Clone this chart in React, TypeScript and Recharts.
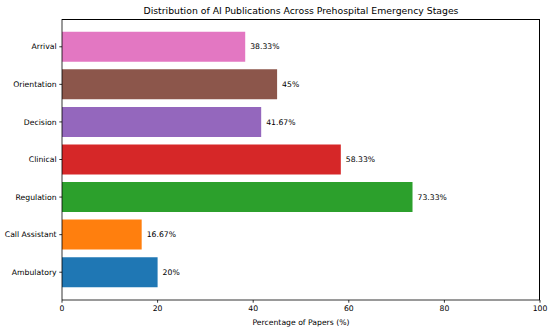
import React from "react";
import { BarChart, Bar, XAxis, YAxis, Cell, LabelList } from "recharts";

// stages listed top to bottom
const stages = [
  "Arrival",
  "Orientation",
  "Decision",
  "Clinical",
  "Regulation",
  "Call Assistant",
  "Ambulatory",
];
const percentages = [38.33, 45, 41.67, 58.33, 73.33, 16.67, 20];
const barColors = [
  "#e377c2",
  "#8c564b",
  "#9467bd",
  "#d62728",
  "#2ca02c",
  "#ff7f0e",
  "#1f77b4",
];
const xTicks = [0, 20, 40, 60, 80, 100];

const data = stages.map((stage, i) => ({ stage, value: percentages[i] }));

const FONT = "DejaVu Sans";
const tickStyle = { fill: "#000", fontSize: 7.7, fontFamily: FONT };
const spine = { stroke: "#000", strokeWidth: 0.8 };

// single-line category tick (no wrapping)
function StageTick(props: any) {
  const { x, y, payload } = props;
  return (
    <text
      x={x}
      y={y}
      dy="0.35em"
      textAnchor="end"
      fill="#000"
      fontSize={7.7}
      fontFamily={FONT}
    >
      {payload.value}
    </text>
  );
}

export default function App() {
  return (
    <div
      style={{
        position: "absolute",
        left: 0,
        top: 0,
        width: 550,
        height: 331,
        background: "#fff",
      }}
    >
      <div
        style={{
          position: "absolute",
          left: 62,
          width: 478,
          top: 5,
          textAlign: "center",
          fontFamily: FONT,
          fontSize: 9.3,
          color: "#000",
        }}
      >
        Distribution of AI Publications Across Prehospital Emergency Stages
      </div>
      <BarChart
        width={550}
        height={331}
        data={data}
        layout="vertical"
        margin={{ top: 19, right: 10, bottom: 0, left: 0 }}
        barCategoryGap="10%"
      >
        <XAxis
          type="number"
          domain={[0, 100]}
          ticks={xTicks}
          interval={0}
          tick={tickStyle}
          tickSize={2.7}
          tickMargin={2.7}
          axisLine={spine}
          tickLine={spine}
          label={{
            value: "Percentage of Papers (%)",
            position: "insideBottom",
            offset: 6,
            style: { fill: "#000", fontSize: 7.7, fontFamily: FONT },
          }}
          height={31}
        />
        <YAxis
          type="category"
          dataKey="stage"
          width={62}
          tick={<StageTick />}
          tickSize={2.7}
          tickMargin={2.7}
          interval={0}
          padding={{ top: 9, bottom: 9 }}
          axisLine={spine}
          tickLine={spine}
        />
        <Bar dataKey="value" isAnimationActive={false}>
          {data.map((d, i) => (
            <Cell key={d.stage} fill={barColors[i]} />
          ))}
          <LabelList
            dataKey="value"
            position="right"
            offset={5}
            formatter={(v: number) => `${v}%`}
            style={{ fill: "#000", fontSize: 7.7, fontFamily: FONT }}
          />
        </Bar>
      </BarChart>
      {/* plot frame (top and right spines) */}
      <div
        style={{
          position: "absolute",
          left: 62,
          top: 19,
          width: 478,
          height: 281,
          boxSizing: "border-box",
          borderTop: "0.8px solid #000",
          borderRight: "0.8px solid #000",
          pointerEvents: "none",
        }}
      />
    </div>
  );
}
